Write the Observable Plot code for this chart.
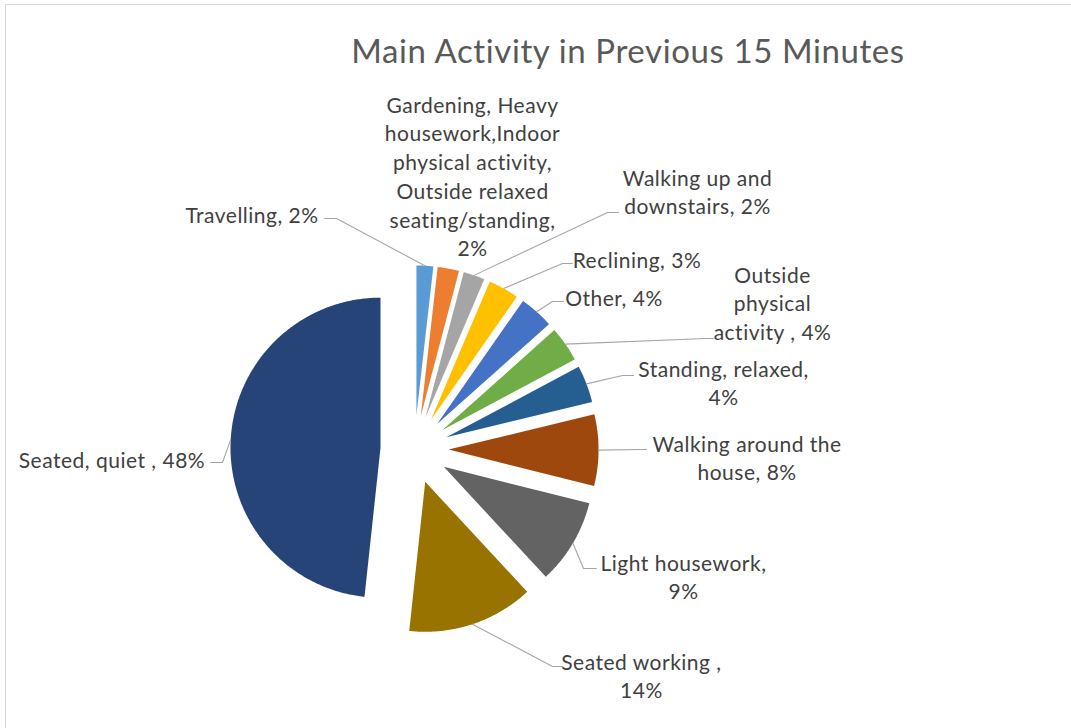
<!DOCTYPE html>
<html>
<head>
<meta charset="utf-8">
<script src="https://cdn.jsdelivr.net/npm/d3@7"></script>
<script src="https://cdn.jsdelivr.net/npm/@observablehq/plot@0.6"></script>
<style>
  html, body { margin: 0; padding: 0; background: #fff; overflow: hidden; width: 1071px; height: 728px; }
  #frame { position: absolute; left: 5px; top: 4px; width: 2000px; height: 2000px; border: 1px solid #d9d9d9; pointer-events: none; }
  #title { position: absolute; left: 0; top: 0; width: 1071px; height: 80px; box-sizing: border-box;
           padding-top: 30px; padding-left: 185px; line-height: 40px; text-align: center;
           font-family: Lato, "Open Sans", sans-serif; font-size: 33px; letter-spacing: 0.6px; color: #595959; }
  #chart { position: absolute; left: 0; top: 80px; }
  #chart text { letter-spacing: 0.5px; }
</style>
</head>
<body>
<div id="frame"></div>
<div id="title">Main Activity in Previous 15 Minutes</div>
<div id="chart"></div>
<script>
// ---- data ----
const categories = [
  "Travelling",
  "Gardening, Heavy housework,Indoor physical activity, Outside relaxed seating/standing",
  "Walking up and downstairs",
  "Reclining",
  "Other",
  "Outside physical activity ",
  "Standing, relaxed",
  "Walking around the house",
  "Light housework",
  "Seated working ",
  "Seated, quiet "
];
const values = [1.8, 2.3, 2.3, 3.3, 3.7, 3.8, 4.0, 7.7, 9.2, 13.6, 48.3];
const percentLabels = ["2%", "2%", "2%", "3%", "4%", "4%", "4%", "8%", "9%", "14%", "48%"];
const labelTexts = [
  "Travelling, 2%",
  "Gardening, Heavy\nhousework,Indoor\nphysical activity,\nOutside relaxed\nseating/standing,\n2%",
  "Walking up and\ndownstairs, 2%",
  "Reclining, 3%",
  "Other, 4%",
  "Outside\nphysical\nactivity , 4%",
  "Standing, relaxed,\n4%",
  "Walking around the\nhouse, 8%",
  "Light housework,\n9%",
  "Seated working ,\n14%",
  "Seated, quiet , 48%"
];
const colors = ["#5B9BD5", "#ED7D31", "#A5A5A5", "#FFC000", "#4472C4", "#70AD47",
                "#255E91", "#9E480E", "#636363", "#997300", "#264478"];

// ---- layout (in units of pie radius, relative to pie centre, y up) ----
const explode = 0.227;
const labelCenters = [
  [-1.083, 1.573], [0.387, 1.828], [1.887, 1.724], [1.483, 1.273], [1.33, 1.02],
  [2.387, 0.982], [2.06, 0.451], [2.217, -0.049], [1.793, -0.842], [1.513, -1.502], [-2.017, -0.06]
];
const leaderElbows = [
  [[-0.6, 1.54], [-0.52, 1.54]],
  null,
  [[1.36, 1.58], [1.287, 1.58]],
  [[1.053, 1.24], [0.987, 1.24]],
  [[0.993, 0.987], [0.92, 0.987]],
  [[1.993, 0.74], [1.94, 0.74]],
  [[1.46, 0.493], [1.387, 0.493]],
  [[1.547, 0], [1.507, 0]],
  [[1.213, -0.793], [1.127, -0.793]],
  [[0.987, -1.447], [0.92, -1.447]],
  [[-1.36, -0.087], [-1.28, -0.087]]
];

// ---- geometry ----
const arcs = d3.pie().sort(null).startAngle(0).endAngle(2 * Math.PI)(values);
const dir = a => [Math.sin(a), Math.cos(a)];
const slicePts = [];
const leaderPts = [];
arcs.forEach((a, i) => {
  const mid = (a.startAngle + a.endAngle) / 2;
  const [tx, ty] = dir(mid).map(v => v * explode);
  const name = categories[i];
  slicePts.push({name, x: tx, y: ty});
  const n = Math.max(4, Math.ceil((a.endAngle - a.startAngle) / 0.01));
  for (let k = 0; k <= n; k++) {
    const phi = a.startAngle + (a.endAngle - a.startAngle) * k / n;
    const [dx, dy] = dir(phi);
    slicePts.push({name, x: tx + dx, y: ty + dy});
  }
  if (leaderElbows[i]) {
    const [mx, my] = dir(mid);
    const [A, B] = leaderElbows[i];
    leaderPts.push({name, x: A[0], y: A[1]});
    leaderPts.push({name, x: B[0], y: B[1]});
    leaderPts.push({name, x: tx + mx, y: ty + my});
  }
});
const labels = categories.map((name, i) => ({name, text: labelTexts[i], x: labelCenters[i][0], y: labelCenters[i][1]}));

const W = 1071, H = 648, R = 150, cx = 414, cy = 369;
const chart = Plot.plot({
  width: W, height: H,
  margin: 0,
  x: {domain: [-cx / R, (W - cx) / R], axis: null},
  y: {domain: [(cy - H) / R, cy / R], axis: null},
  color: {domain: categories, range: colors},
  style: {background: "transparent"},
  marks: [
    Plot.line(slicePts, {x: "x", y: "y", z: "name", fill: "name", stroke: "none", curve: "linear-closed"}),
    Plot.line(leaderPts, {x: "x", y: "y", z: "name", stroke: "#a6a6a6", strokeWidth: 1.1}),
    Plot.text(labels, {x: "x", y: "y", text: "text", fill: "#404040", fontSize: 21,
      fontFamily: "Lato, 'Open Sans', sans-serif", lineHeight: 1.367, textAnchor: "middle", lineAnchor: "middle"})
  ]
});
document.getElementById("chart").appendChild(chart);
</script>
</body>
</html>
